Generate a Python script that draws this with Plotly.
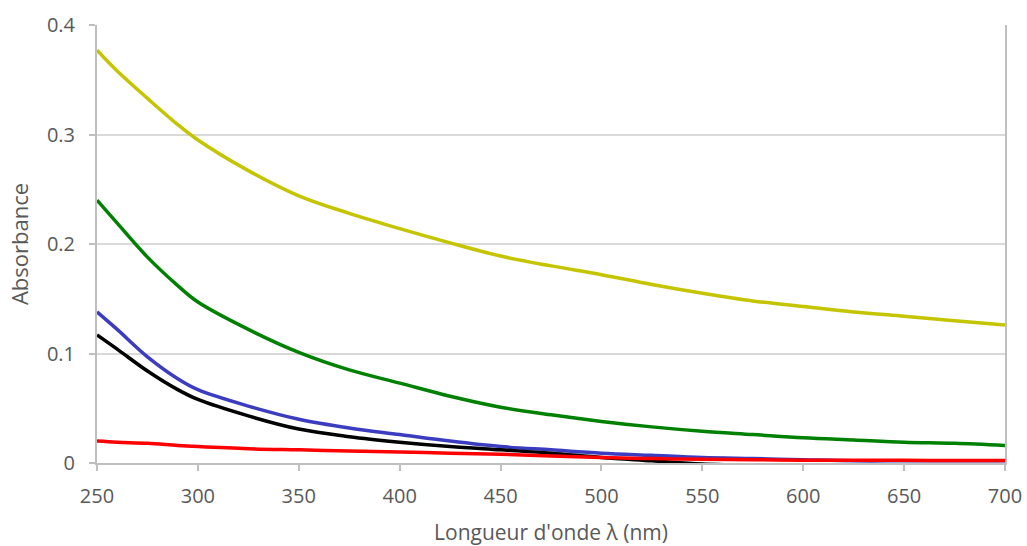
import plotly.graph_objects as go

wavelength = [250, 260, 275, 290, 300, 325, 350, 375, 400, 425, 450, 475, 500, 525, 550, 575, 600, 625, 650, 675, 700]

yellow = [0.377, 0.358, 0.333, 0.309, 0.295, 0.267, 0.244, 0.228, 0.214, 0.201, 0.189, 0.180, 0.172, 0.163, 0.155, 0.148, 0.143, 0.138, 0.134, 0.130, 0.126]
green = [0.240, 0.219, 0.188, 0.162, 0.147, 0.122, 0.101, 0.085, 0.073, 0.061, 0.051, 0.044, 0.038, 0.033, 0.029, 0.026, 0.023, 0.021, 0.019, 0.018, 0.016]
blue = [0.138, 0.122, 0.097, 0.077, 0.067, 0.052, 0.040, 0.032, 0.026, 0.020, 0.015, 0.012, 0.009, 0.007, 0.005, 0.004, 0.003, 0.002, 0.002, 0.002, 0.002]
black = [0.117, 0.104, 0.084, 0.067, 0.058, 0.043, 0.031, 0.024, 0.019, 0.015, 0.012, 0.009, 0.005, 0.002, -0.001, -0.002, -0.002, -0.004, -0.005, -0.005, -0.006]
red = [0.020, 0.019, 0.018, 0.016, 0.015, 0.013, 0.012, 0.011, 0.010, 0.009, 0.008, 0.0065, 0.005, 0.004, 0.0035, 0.003, 0.0025, 0.0025, 0.0025, 0.0022, 0.0022]

series = [
    ("yellow", yellow, "#C4C400"),
    ("green", green, "#008000"),
    ("blue", blue, "#3C3CC0"),
    ("black", black, "#000000"),
    ("red", red, "#FF0000"),
]

x_ticks = [250, 300, 350, 400, 450, 500, 550, 600, 650, 700]
y_ticks = [0, 0.1, 0.2, 0.3, 0.4]
y_ticktext = ["0", "0.1", "0.2", "0.3", "0.4"]

fig = go.Figure()
for name, vals, col in series:
    fig.add_trace(go.Scatter(x=wavelength, y=vals, mode="lines", name=name,
                             line=dict(color=col, width=3.5, shape="spline"),
                             showlegend=False))

font_family = "Open Sans, Liberation Sans, sans-serif"
fig.update_layout(
    width=1027, height=546,
    margin=dict(l=97, r=22, t=25, b=83, autoexpand=False),
    paper_bgcolor="white", plot_bgcolor="white",
    font=dict(family=font_family, color="#595959", size=16),
    xaxis=dict(
        range=[250, 700], tickvals=x_ticks, showgrid=False, zeroline=False,
        showline=True, linecolor="#BFBFBF", linewidth=2,
        ticks="outside", ticklen=6, tickcolor="#BFBFBF", tickwidth=2,
        ticklabelstandoff=8,
        tickfont=dict(size=20, color="#595959"),
        title=dict(text="Longueur d'onde λ (nm)", font=dict(size=21, color="#595959"), standoff=20),
    ),
    yaxis=dict(
        range=[0, 0.4], tickvals=y_ticks, ticktext=y_ticktext,
        showgrid=True, gridcolor="#D9D9D9", gridwidth=2, zeroline=False,
        showline=True, linecolor="#BFBFBF", linewidth=2, mirror=True,
        ticks="outside", ticklen=6, tickcolor="#BFBFBF", tickwidth=2,
        ticklabelstandoff=10,
        tickfont=dict(size=20, color="#595959"),
        title=dict(text="Absorbance", font=dict(size=22, color="#595959"), standoff=12),
    ),
)

fig.write_html("out.html", config={"displayModeBar": False},
               post_script="document.body.style.margin='0';document.body.style.overflow='hidden';")
